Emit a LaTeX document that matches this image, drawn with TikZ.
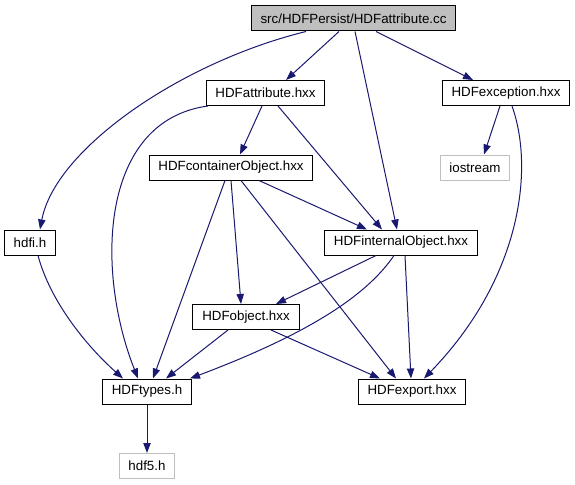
\documentclass[tikz,border=0pt]{standalone}
\usepackage{fontspec}
\setmainfont{Liberation Sans}
\usetikzlibrary{arrows.meta,calc}
\definecolor{edgeblue}{HTML}{191970}
\definecolor{lightgray}{HTML}{BFBFBF}
\begin{document}
\begin{tikzpicture}[x=0.75pt,y=-0.75pt,
  file/.style={draw=black,line width=0.75pt,minimum height=18.75pt,inner xsep=7pt,inner ysep=0pt,font=\fontsize{10}{12}\selectfont},
  mainfile/.style={file,fill=lightgray},
  sysfile/.style={file,draw=lightgray},
  dep/.style={draw=edgeblue,line width=0.75pt,-{Triangle[length=7.5pt,width=5.5pt]}}]
  \useasboundingbox (0,0) rectangle (575,485);
  % files
  \node[mainfile] (root) at (353.5,18.5) {src/HDFPersist/HDFattribute.cc};
  \node[file] (attr) at (265.5,93) {HDFattribute.hxx};
  \node[file] (exc) at (506,93) {HDFexception.hxx};
  \node[file] (cont) at (231,167.5) {HDFcontainerObject.hxx};
  \node[sysfile] (ios) at (475,167.5) {iostream};
  \node[file] (hdfi) at (30,242.5) {hdfi.h};
  \node[file] (intern) at (401,242.5) {HDFinternalObject.hxx};
  \node[file] (obj) at (246,317) {HDFobject.hxx};
  \node[file] (types) at (147,391.5) {HDFtypes.h};
  \node[file] (export) at (412,391.5) {HDFexport.hxx};
  \node[sysfile] (hdf5) at (147,466) {hdf5.h};
  % includes
  \draw[dep] ($(root.south)+(-47.5,0)$) .. controls +(-126,31) and +(15,-80) .. ($(hdfi.north)+(10,0)$);
  \draw[dep] ($(root.south)+(-14.5,0)$) -- ($(attr.north)+(20.5,0)$);
  \draw[dep] ($(root.south)+(1.5,0)$) -- ($(intern.north)+(-4,0)$);
  \draw[dep] ($(root.south)+(22.5,0)$) -- ($(exc.north)+(-33,0)$);
  \draw[dep] ($(attr.south)+(-57.5,0)$) .. controls +(-108,14.5) and +(-43,-109) .. ($(types.north)+(-9,0)$);
  \draw[dep] ($(attr.south)+(-3.5,0)$) -- ($(cont.north)+(9,0)$);
  \draw[dep] ($(attr.south)+(12.5,0)$) -- ($(intern.north)+(-19,0)$);
  \draw[dep] ($(cont.south)+(-6,0)$) -- ($(types.north)+(6,0)$);
  \draw[dep] (cont.south) -- ($(obj.north)+(-5,0)$);
  \draw[dep] ($(cont.south)+(28,0)$) -- ($(intern.north)+(-34,0)$);
  \draw[dep] ($(cont.south)+(10,0)$) -- ($(export.north)+(-16,0)$);
  \draw[dep] ($(exc.south)+(-6,0)$) -- ($(ios.north)+(9,0)$);
  \draw[dep] ($(exc.south)+(6,0)$) .. controls +(23,64.5) and +(96,-99) .. ($(export.north)+(12,0)$);
  \draw[dep] ($(hdfi.south)+(8,0)$) .. controls +(12,45) and +(-38,-34) .. ($(types.north)+(-24,0)$);
  \draw[dep] ($(intern.south)+(-25,0)$) -- ($(obj.north)+(30,0)$);
  \draw[dep] ($(intern.south)+(-7,0)$) .. controls +(-24,35) and +(130,-49) .. ($(types.north)+(43,0)$);
  \draw[dep] ($(intern.south)+(4,0)$) -- ($(export.north)+(-1,0)$);
  \draw[dep] ($(obj.south)+(-18,0)$) -- ($(types.north)+(19,0)$);
  \draw[dep] ($(obj.south)+(25,0)$) -- ($(export.north)+(-32,0)$);
  \draw[dep] (types.south) -- (hdf5.north);
\end{tikzpicture}
\end{document}
